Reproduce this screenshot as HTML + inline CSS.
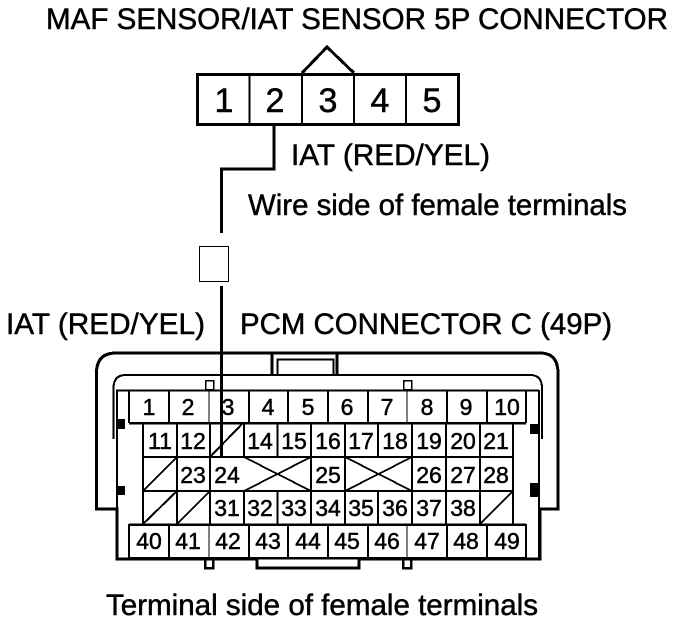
<!DOCTYPE html>
<html><head><meta charset="utf-8"><style>
html,body{margin:0;padding:0;background:#fff}
svg{display:block}
text{font-family:"Liberation Sans",Arial,sans-serif;fill:#000;stroke:#000;stroke-width:.5px}
.n{font-size:23px;text-anchor:middle}
.b{font-size:34px;text-anchor:middle}
.t{font-size:30px}
</style></head><body>
<svg width="688" height="624" viewBox="0 0 688 624" xmlns="http://www.w3.org/2000/svg">
<text class="t" x="46" y="29" textLength="622" lengthAdjust="spacingAndGlyphs">MAF SENSOR/IAT SENSOR 5P CONNECTOR</text>
<text class="t" x="291" y="165" textLength="199" lengthAdjust="spacingAndGlyphs">IAT (RED/YEL)</text>
<text class="t" x="248" y="215" textLength="379" lengthAdjust="spacingAndGlyphs">Wire side of female terminals</text>
<text class="t" x="6" y="334" textLength="199" lengthAdjust="spacingAndGlyphs">IAT (RED/YEL)</text>
<text class="t" x="240" y="334" textLength="372" lengthAdjust="spacingAndGlyphs">PCM CONNECTOR C (49P)</text>
<text class="t" x="106" y="615" textLength="432" lengthAdjust="spacingAndGlyphs">Terminal side of female terminals</text>

<g fill="none" stroke="#000" shape-rendering="crispEdges">
<rect x="197.500" y="74.500" width="261" height="50" stroke-width="3"/>
<path d="M249.500 74V124M302 74V124M354 74V124M406 74V124" stroke-width="2"/>
<path d="M302 73L327 47L354 73" stroke-width="3"/>
<path d="M274 125V169H221.500V233" stroke-width="3"/>
<rect x="199.500" y="246.500" width="29" height="35" stroke-width="1"/>
<path d="M221.500 286V457" stroke-width="3"/>
<path d="M117 509H96.500V373Q96.500 353 116 353H540Q558 353 558 373V509H540V559H359V568H257V559H117Z" stroke-width="3"/>
<path d="M272 353V375M337 353V375" stroke-width="3"/>
<path d="M277.500 375V359.500H333.500V375" stroke-width="2"/>
<path d="M113.500 439V388Q113.500 375 126 375H530Q542 375 542 388V439" stroke-width="2"/>
<path d="M116 390.500H539M117 390V559M539 390V559" stroke-width="2"/>
<rect x="205.500" y="380.500" width="8" height="9" stroke-width="1.500"/>
<rect x="403.500" y="380.500" width="8" height="9" stroke-width="1.500"/>
<rect x="205" y="559" width="8" height="9" stroke-width="2.500"/>
<rect x="403" y="559" width="8" height="9" stroke-width="2.500"/>
<path d="M129 390.500V423M169 391V423M249 391V423M288 391V423M328 391V423M368 391V423M447 391V423M487 391V423M526 391V423" stroke-width="2"/>
<path d="M209 391V423M407 391V423M209 524V558M407 524V558" stroke-width="1"/>
<path d="M129 423H526M129 524.500H526M129 558H526" stroke-width="2.500"/>
<path d="M129 524V558M169 524V558M249 524V558M288 524V558M328 524V558M368 524V558M447 524V558M487 524V558M526 524V558" stroke-width="2"/>
<path d="M143 457H513M143 491H513" stroke-width="2"/>
<path d="M143 423V524M513 423V524" stroke-width="2"/>
<path d="M177 423V524M210 423V524M244 423V457M244 491V524M277.500 423V457M277.500 491V524M311 423V524M345 423V524M378 423V457M378 491V524M412 423V524M446 423V524M480 423V524" stroke-width="2"/>
<path d="M210 457L243 423M143 491L177 457M143 524L177 491M177 524L210 491M480 524L513 491" stroke-width="2"/>
<path d="M244 457L311 491M244 491L311 457M345 457L412 491M345 491L412 457" stroke-width="1.800"/>
</g>
<g fill="#000">
<rect x="117" y="419" width="8" height="10"/>
<rect x="117" y="486" width="8" height="9"/>
<rect x="530" y="424" width="9" height="10"/>
<rect x="530" y="483" width="9" height="14"/>
</g>

<g>
<text class="b" x="224" y="112">1</text>
<text class="b" x="275" y="112">2</text>
<text class="b" x="328" y="112">3</text>
<text class="b" x="380" y="112">4</text>
<text class="b" x="432" y="112">5</text>
</g>
<g>
<text class="n" x="149" y="415">1</text><text class="n" x="188" y="415">2</text><text class="n" x="228" y="415">3</text><text class="n" x="268" y="415">4</text><text class="n" x="308" y="415">5</text><text class="n" x="347" y="415">6</text><text class="n" x="387" y="415">7</text><text class="n" x="427" y="415">8</text><text class="n" x="466" y="415">9</text><text class="n" x="507" y="415">10</text>
<text class="n" x="160" y="449">11</text><text class="n" x="193" y="449">12</text><text class="n" x="260" y="449">14</text><text class="n" x="294" y="449">15</text><text class="n" x="328" y="449">16</text><text class="n" x="361" y="449">17</text><text class="n" x="395" y="449">18</text><text class="n" x="429" y="449">19</text><text class="n" x="463" y="449">20</text><text class="n" x="496" y="449">21</text>
<text class="n" x="193" y="483">23</text><text class="n" x="227" y="483">24</text><text class="n" x="328" y="483">25</text><text class="n" x="429" y="483">26</text><text class="n" x="463" y="483">27</text><text class="n" x="496" y="483">28</text>
<text class="n" x="227" y="516">31</text><text class="n" x="260" y="516">32</text><text class="n" x="294" y="516">33</text><text class="n" x="328" y="516">34</text><text class="n" x="361" y="516">35</text><text class="n" x="395" y="516">36</text><text class="n" x="429" y="516">37</text><text class="n" x="463" y="516">38</text>
<text class="n" x="149" y="549">40</text><text class="n" x="188" y="549">41</text><text class="n" x="228" y="549">42</text><text class="n" x="268" y="549">43</text><text class="n" x="308" y="549">44</text><text class="n" x="347" y="549">45</text><text class="n" x="387" y="549">46</text><text class="n" x="427" y="549">47</text><text class="n" x="466" y="549">48</text><text class="n" x="507" y="549">49</text>
</g>
</svg>
</body></html>
